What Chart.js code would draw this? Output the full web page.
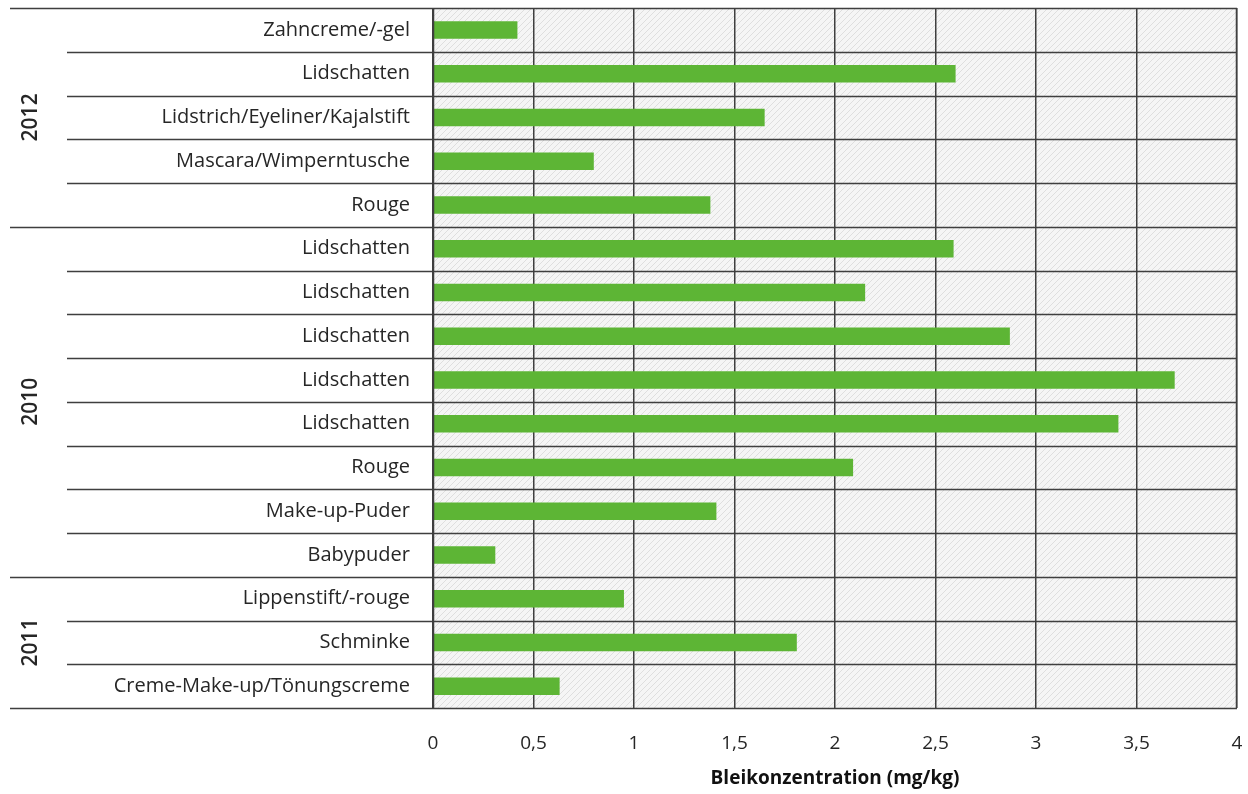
<!DOCTYPE html>
<html>
<head>
<meta charset="utf-8">
<script src="https://cdn.jsdelivr.net/npm/chart.js"></script>
<style>
  html, body { margin: 0; padding: 0; background: #fff; }
  #wrap { width: 1248px; height: 794px; }
</style>
</head>
<body>
<div id="wrap"><canvas id="chart"></canvas></div>
<script>
// lead content per product, grouped by survey year
const categories = [
  'Zahncreme/-gel', 'Lidschatten', 'Lidstrich/Eyeliner/Kajalstift', 'Mascara/Wimperntusche', 'Rouge',
  'Lidschatten', 'Lidschatten', 'Lidschatten', 'Lidschatten', 'Lidschatten', 'Rouge', 'Make-up-Puder', 'Babypuder',
  'Lippenstift/-rouge', 'Schminke', 'Creme-Make-up/Tönungscreme'
];
const values = [0.42, 2.60, 1.65, 0.80, 1.38, 2.59, 2.15, 2.87, 3.69, 3.41, 2.09, 1.41, 0.31, 0.95, 1.81, 0.63];
const years = ['2012', '2010', '2011'];
const groupSizes = [5, 8, 3];
const xTicks = [0, 0.5, 1, 1.5, 2, 2.5, 3, 3.5, 4];

const FONT = '"Open Sans", Lato, sans-serif';
const LINE = '#3f3f3f';

// diagonal hatch for the plot background
function hatch() {
  const c = document.createElement('canvas');
  c.width = 6; c.height = 6;
  const g = c.getContext('2d');
  g.fillStyle = '#f5f5f5';
  g.fillRect(0, 0, 6, 6);
  g.strokeStyle = '#dedede';
  g.lineWidth = 1;
  g.beginPath();
  g.moveTo(-1, 7); g.lineTo(7, -1);
  g.moveTo(-7, 7); g.lineTo(1, -1);
  g.moveTo(5, 7); g.lineTo(13, -1);
  g.stroke();
  return g.createPattern(c, 'repeat');
}

const rowsPlugin = {
  id: 'rows',
  beforeDraw(chart) {
    const { ctx, chartArea: a } = chart;
    ctx.save();
    ctx.fillStyle = hatch();
    ctx.fillRect(a.left, a.top, a.right - a.left, a.bottom - a.top);
    ctx.restore();
  },
  afterDatasetsDraw(chart) {
    const { ctx, chartArea: a, scales } = chart;
    const y = scales.y;
    const step = (a.bottom - a.top) / categories.length;
    // which row boundaries are group boundaries
    const groupEdges = new Set([0]);
    let acc = 0;
    groupSizes.forEach(n => { acc += n; groupEdges.add(acc); });
    ctx.save();
    ctx.strokeStyle = LINE;
    ctx.lineWidth = 1.5;
    for (let i = 0; i <= categories.length; i++) {
      const py = Math.round(y.getPixelForValue(i) - step / 2) + 0.5;
      const x0 = groupEdges.has(i) ? 10 : 67;
      ctx.beginPath();
      ctx.moveTo(x0, py);
      ctx.lineTo(a.right, py);
      ctx.stroke();
    }
    // plot frame sides
    ctx.beginPath();
    ctx.moveTo(a.left + 0.5, a.top); ctx.lineTo(a.left + 0.5, a.bottom);
    ctx.moveTo(a.right - 0.5, a.top); ctx.lineTo(a.right - 0.5, a.bottom);
    ctx.stroke();
    // year labels
    ctx.fillStyle = '#262626';
    ctx.font = '600 21px ' + FONT;
    ctx.textAlign = 'center';
    ctx.textBaseline = 'middle';
    let start = 0;
    groupSizes.forEach((n, gi) => {
      const top = y.getPixelForValue(start) - step / 2;
      const bot = y.getPixelForValue(start + n - 1) + step / 2;
      ctx.save();
      ctx.translate(31, (top + bot) / 2);
      ctx.rotate(-Math.PI / 2);
      ctx.fillText(years[gi], 0, 0);
      ctx.restore();
      start += n;
    });
    ctx.restore();
  }
};

new Chart(document.getElementById('chart'), {
  type: 'bar',
  data: {
    labels: categories,
    datasets: [{
      data: values,
      backgroundColor: '#5db535',
      borderWidth: 0,
      categoryPercentage: 1,
      barPercentage: 0.4
    }]
  },
  options: {
    indexAxis: 'y',
    responsive: true,
    maintainAspectRatio: false,
    animation: false,
    layout: { padding: { left: 10, right: 11, top: 8, bottom: 0 } },
    plugins: { legend: { display: false }, tooltip: { enabled: false } },
    scales: {
      x: {
        min: 0, max: 4,
        afterBuildTicks: s => { s.ticks = xTicks.map(v => ({ value: v })); },
        afterFit: s => { s.height = 86; s.paddingLeft = 0; s.paddingRight = 0; },
        grid: { color: LINE, lineWidth: 1.5, drawTicks: false },
        border: { display: false },
        ticks: {
          padding: 24,
          color: '#262626',
          font: { family: FONT, size: 19 },
          maxRotation: 0,
          callback: v => String(v).replace('.', ',')
        },
        title: {
          display: true,
          text: 'Bleikonzentration (mg/kg)',
          color: '#111',
          font: { family: FONT, size: 19, weight: 'bold' },
          padding: { top: 0, bottom: 4 }
        }
      },
      y: {
        afterFit: s => { s.width = 423; s.paddingTop = 0; s.paddingBottom = 0; },
        grid: { display: false, drawTicks: false },
        border: { display: false },
        ticks: {
          padding: 23,
          color: '#262626',
          font: { family: FONT, size: 20 },
          autoSkip: false
        }
      }
    }
  },
  plugins: [rowsPlugin]
});
</script>
</body>
</html>
